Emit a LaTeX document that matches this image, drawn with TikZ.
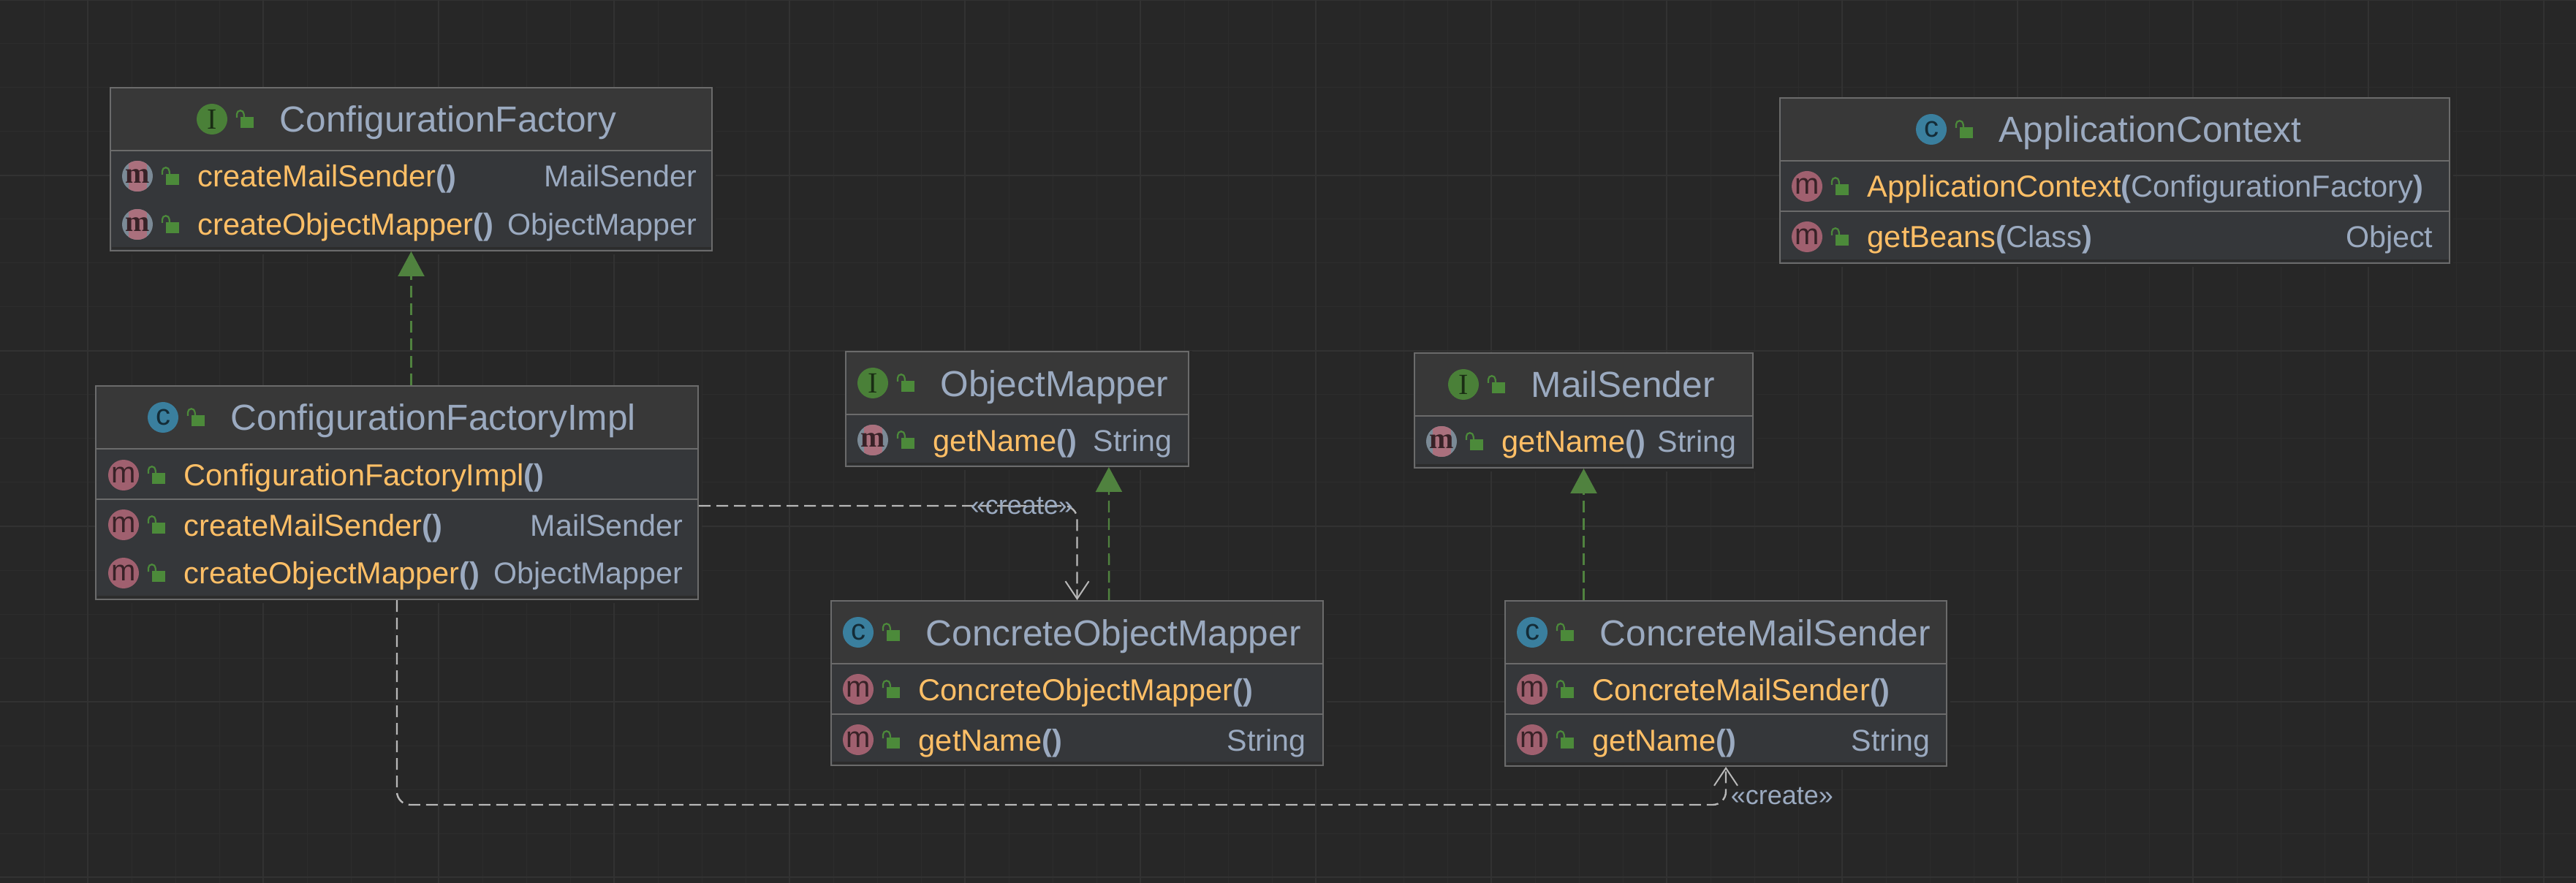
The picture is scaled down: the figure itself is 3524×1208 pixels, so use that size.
\documentclass[tikz,border=0pt]{standalone}
\usepackage{fontspec}
\setmainfont{Liberation Sans}
\newfontfamily\iconserif{Liberation Serif}
\usetikzlibrary{arrows.meta}

\definecolor{canvascol}{HTML}{272727}
\definecolor{gridmin}{HTML}{2D2D2D}
\definecolor{gridmaj}{HTML}{323232}
\definecolor{headcol}{HTML}{383838}
\definecolor{bodycol}{HTML}{35373A}
\definecolor{shadecol}{HTML}{2C2C2C}
\definecolor{framecol}{HTML}{6B6B6B}
\definecolor{titlecol}{HTML}{9BAAC0}
\definecolor{methodcol}{HTML}{FFBF66}
\definecolor{lockcol}{HTML}{4C8A3A}
\definecolor{ifacecol}{HTML}{4A8038}
\definecolor{classcol}{HTML}{3A7F9E}
\definecolor{methcol}{HTML}{A0606F}
\definecolor{abscol}{HTML}{7B8A96}
\definecolor{arrowcol}{HTML}{B8B8B8}
\definecolor{realcol}{HTML}{50823F}

\tikzset{
	umlframe/.style={draw=framecol, line width=0.6pt, fill=bodycol, inner sep=0pt},
	sepline/.style={draw=framecol, line width=0.6pt},
	headtext/.style={text=titlecol, font=\fontsize{12.4}{14}\selectfont, anchor=base west, inner sep=0pt},
	rowtext/.style={text=titlecol, font=\fontsize{10.4}{12}\selectfont, anchor=base west, inner sep=0pt},
	rettext/.style={text=titlecol, font=\fontsize{10.3}{12}\selectfont, anchor=base east, inner sep=0pt},
	stereo/.style={text=titlecol, font=\fontsize{9}{11}\selectfont, anchor=base west, inner sep=0pt},
	iconletter/.style={font=\fontsize{10}{12}\selectfont, inner sep=0pt},
	creates/.style={draw=arrowcol, line width=0.6pt, dash pattern=on 4pt off 2pt, rounded corners=4.5pt,
		-{Straight Barb[length=6pt,width=8pt,line width=0.5pt]}},
	realizes/.style={draw=realcol, line width=0.6pt, dash pattern=on 4pt off 2pt,
		-{Triangle[length=8.5pt,width=9pt,fill=realcol]}}
}

\newcommand{\umlbox}[6]{
	\fill[canvascol] (#2,#3) rectangle (#4+4,#5+4);
	\pgfmathsetmacro{\UBw}{(#4-#2)*0.25-0.6}
	\pgfmathsetmacro{\UBh}{(#5-#3)*0.25-0.6}
	\node[umlframe, minimum width=\UBw pt, minimum height=\UBh pt] (#1) at ({(#2+#4)/2},{(#3+#5)/2}) {};
	\fill[headcol] (#2+2.5,#3+2.5) rectangle (#4-2.5,#6);
	\fill[shadecol] (#2+2.5,#5-6) rectangle (#4-2.5,#5-2.5);
	\umlsep{#1}{#6}
}
\newcommand{\umlsep}[2]{
	\draw[sepline] (#1.west |- 0,#2) -- (#1.east |- 0,#2);
}
\newcommand{\umllock}[2]{
	\fill[lockcol] (#1+39,#2-3) rectangle (#1+57,#2+12);
	\draw[lockcol, line width=0.55pt] (#1+34,#2-2) -- (#1+34,#2-7) arc (180:0:1.2pt) -- (#1+44,#2-3);
}
\newcommand{\umlicon}[5]{
	\fill[#4] (#2,#3) circle (5.25pt);
	\node[iconletter, text=#4!35!black] (#1) at (#2,#3) {#5};
	\umllock{#2}{#3}
}
\newcommand{\umlhead}[6]{
	\umlicon{#1icon}{#2}{#3}{#4}{#5}
	\node[headtext] (#1title) at (#2+92,#3+18) {#6};
}
\newcommand{\umlmethod}[4]{
	\umlicon{#1icon}{#2}{#3}{methcol}{m}
	\node[rowtext] (#1text) at (#2+82,#3+15) {#4};
}
\newcommand{\absmethod}[4]{
	\fill[abscol] (#2,#3) circle (5.25pt);
	\begin{scope}
		\clip (#2,#3) circle (5.25pt);
		\fill[methcol!90!white] (#2-12.5,#3-22) rectangle (#2+12.5,#3+22);
	\end{scope}
	\node[iconletter, text=methcol!35!black] (#1icon) at (#2,#3) {\iconserif\bfseries m};
	\umllock{#2}{#3}
	\node[rowtext] (#1text) at (#2+82,#3+15) {#4};
}
\newcommand{\umlret}[4]{
	\node[rettext] (#1) at (#2,#3+15) {#4};
}
\newcommand{\umlcall}[2]{\textcolor{methodcol}{#1}\textbf{(}#2\textbf{)}}

\begin{document}
\begin{tikzpicture}[x=0.25pt, y=-0.25pt]
\useasboundingbox (0,0) rectangle (3524,1208);
\fill[canvascol] (0,0) rectangle (3524,1208);

% grid
\foreach \gx in {60,120,...,3480}
	\draw[gridmin, line width=0.25pt] (\gx,0) -- (\gx,1208);
\foreach \gy in {60,120,...,1200}
	\draw[gridmin, line width=0.25pt] (0,\gy) -- (3524,\gy);
\foreach \gx in {120,360,...,3480}
	\draw[gridmaj, line width=0.5pt] (\gx,0) -- (\gx,1208);
\foreach \gy in {0,240,...,1200}
	\draw[gridmaj, line width=0.5pt] (0,\gy) -- (3524,\gy);

\umlbox{cfactory}{150}{119}{975}{344}{206}
\umlhead{cfactory}{290}{163}{ifacecol}{\iconserif I}{ConfigurationFactory}
\absmethod{cfactorya}{188}{241}{\umlcall{createMailSender}{}}
\umlret{cfactoryaret}{954}{241}{MailSender}
\absmethod{cfactoryb}{188}{307}{\umlcall{createObjectMapper}{}}
\umlret{cfactorybret}{954}{307}{ObjectMapper}

\umlbox{cfimpl}{130}{527}{956}{821}{614}
\umlsep{cfimpl}{683}
\umlhead{cfimpl}{223}{571}{classcol}{c}{ConfigurationFactoryImpl}
\umlmethod{cfimpla}{169}{650}{\umlcall{ConfigurationFactoryImpl}{}}
\umlmethod{cfimplb}{169}{718}{\umlcall{createMailSender}{}}
\umlret{cfimplbret}{935}{718}{MailSender}
\umlmethod{cfimplc}{169}{784}{\umlcall{createObjectMapper}{}}
\umlret{cfimplcret}{935}{784}{ObjectMapper}

\umlbox{omapper}{1156}{480}{1627}{639}{567}
\umlhead{omapper}{1194}{524}{ifacecol}{\iconserif I}{ObjectMapper}
\absmethod{omappera}{1194}{602}{\umlcall{getName}{}}
\umlret{omapperaret}{1604}{602}{String}

\umlbox{msender}{1934}{482}{2399}{641}{569}
\umlhead{msender}{2002}{526}{ifacecol}{\iconserif I}{MailSender}
\absmethod{msendera}{1972}{604}{\umlcall{getName}{}}
\umlret{msenderaret}{2376}{604}{String}

\umlbox{comapper}{1136}{821}{1811}{1048}{908}
\umlsep{comapper}{977}
\umlhead{comapper}{1174}{865}{classcol}{c}{ConcreteObjectMapper}
\umlmethod{comappera}{1174}{943}{\umlcall{ConcreteObjectMapper}{}}
\umlmethod{comapperb}{1174}{1012}{\umlcall{getName}{}}
\umlret{comapperbret}{1787}{1012}{String}

\umlbox{cmsender}{2058}{821}{2664}{1049}{908}
\umlsep{cmsender}{977}
\umlhead{cmsender}{2096}{865}{classcol}{c}{ConcreteMailSender}
\umlmethod{cmsendera}{2096}{943}{\umlcall{ConcreteMailSender}{}}
\umlmethod{cmsenderb}{2096}{1012}{\umlcall{getName}{}}
\umlret{cmsenderbret}{2641}{1012}{String}

\umlbox{appctx}{2434}{133}{3352}{361}{220}
\umlsep{appctx}{289}
\umlhead{appctx}{2642}{177}{classcol}{c}{ApplicationContext}
\umlmethod{appctxa}{2472}{255}{\umlcall{ApplicationContext}{ConfigurationFactory}}
\umlmethod{appctxb}{2472}{324}{\umlcall{getBeans}{Class}}
\umlret{appctxbret}{3329}{324}{Object}

% connectors
\draw[realizes] (cfimpl.north -| cfactory.south) -- (cfactory.south);
\draw[realizes] ([xshift=10.9pt]comapper.north) -- ([xshift=31.35pt]omapper.south);
\draw[realizes] (cmsender.north -| msender.south) -- (msender.south);

\coordinate (lowbend) at (cmsender.south |- 0,1101);
\draw[creates] ([yshift=-4.5pt]cfimpl.east) -| (comapper.north);
\draw[creates] (cfimpl.south) -- (cfimpl.south |- lowbend) -- (lowbend) -- (cmsender.south);
\node[stereo] (createa) at (1327,703) {«create»};
\node[stereo] (createb) at (2367,1100) {«create»};
\end{tikzpicture}
\end{document}
